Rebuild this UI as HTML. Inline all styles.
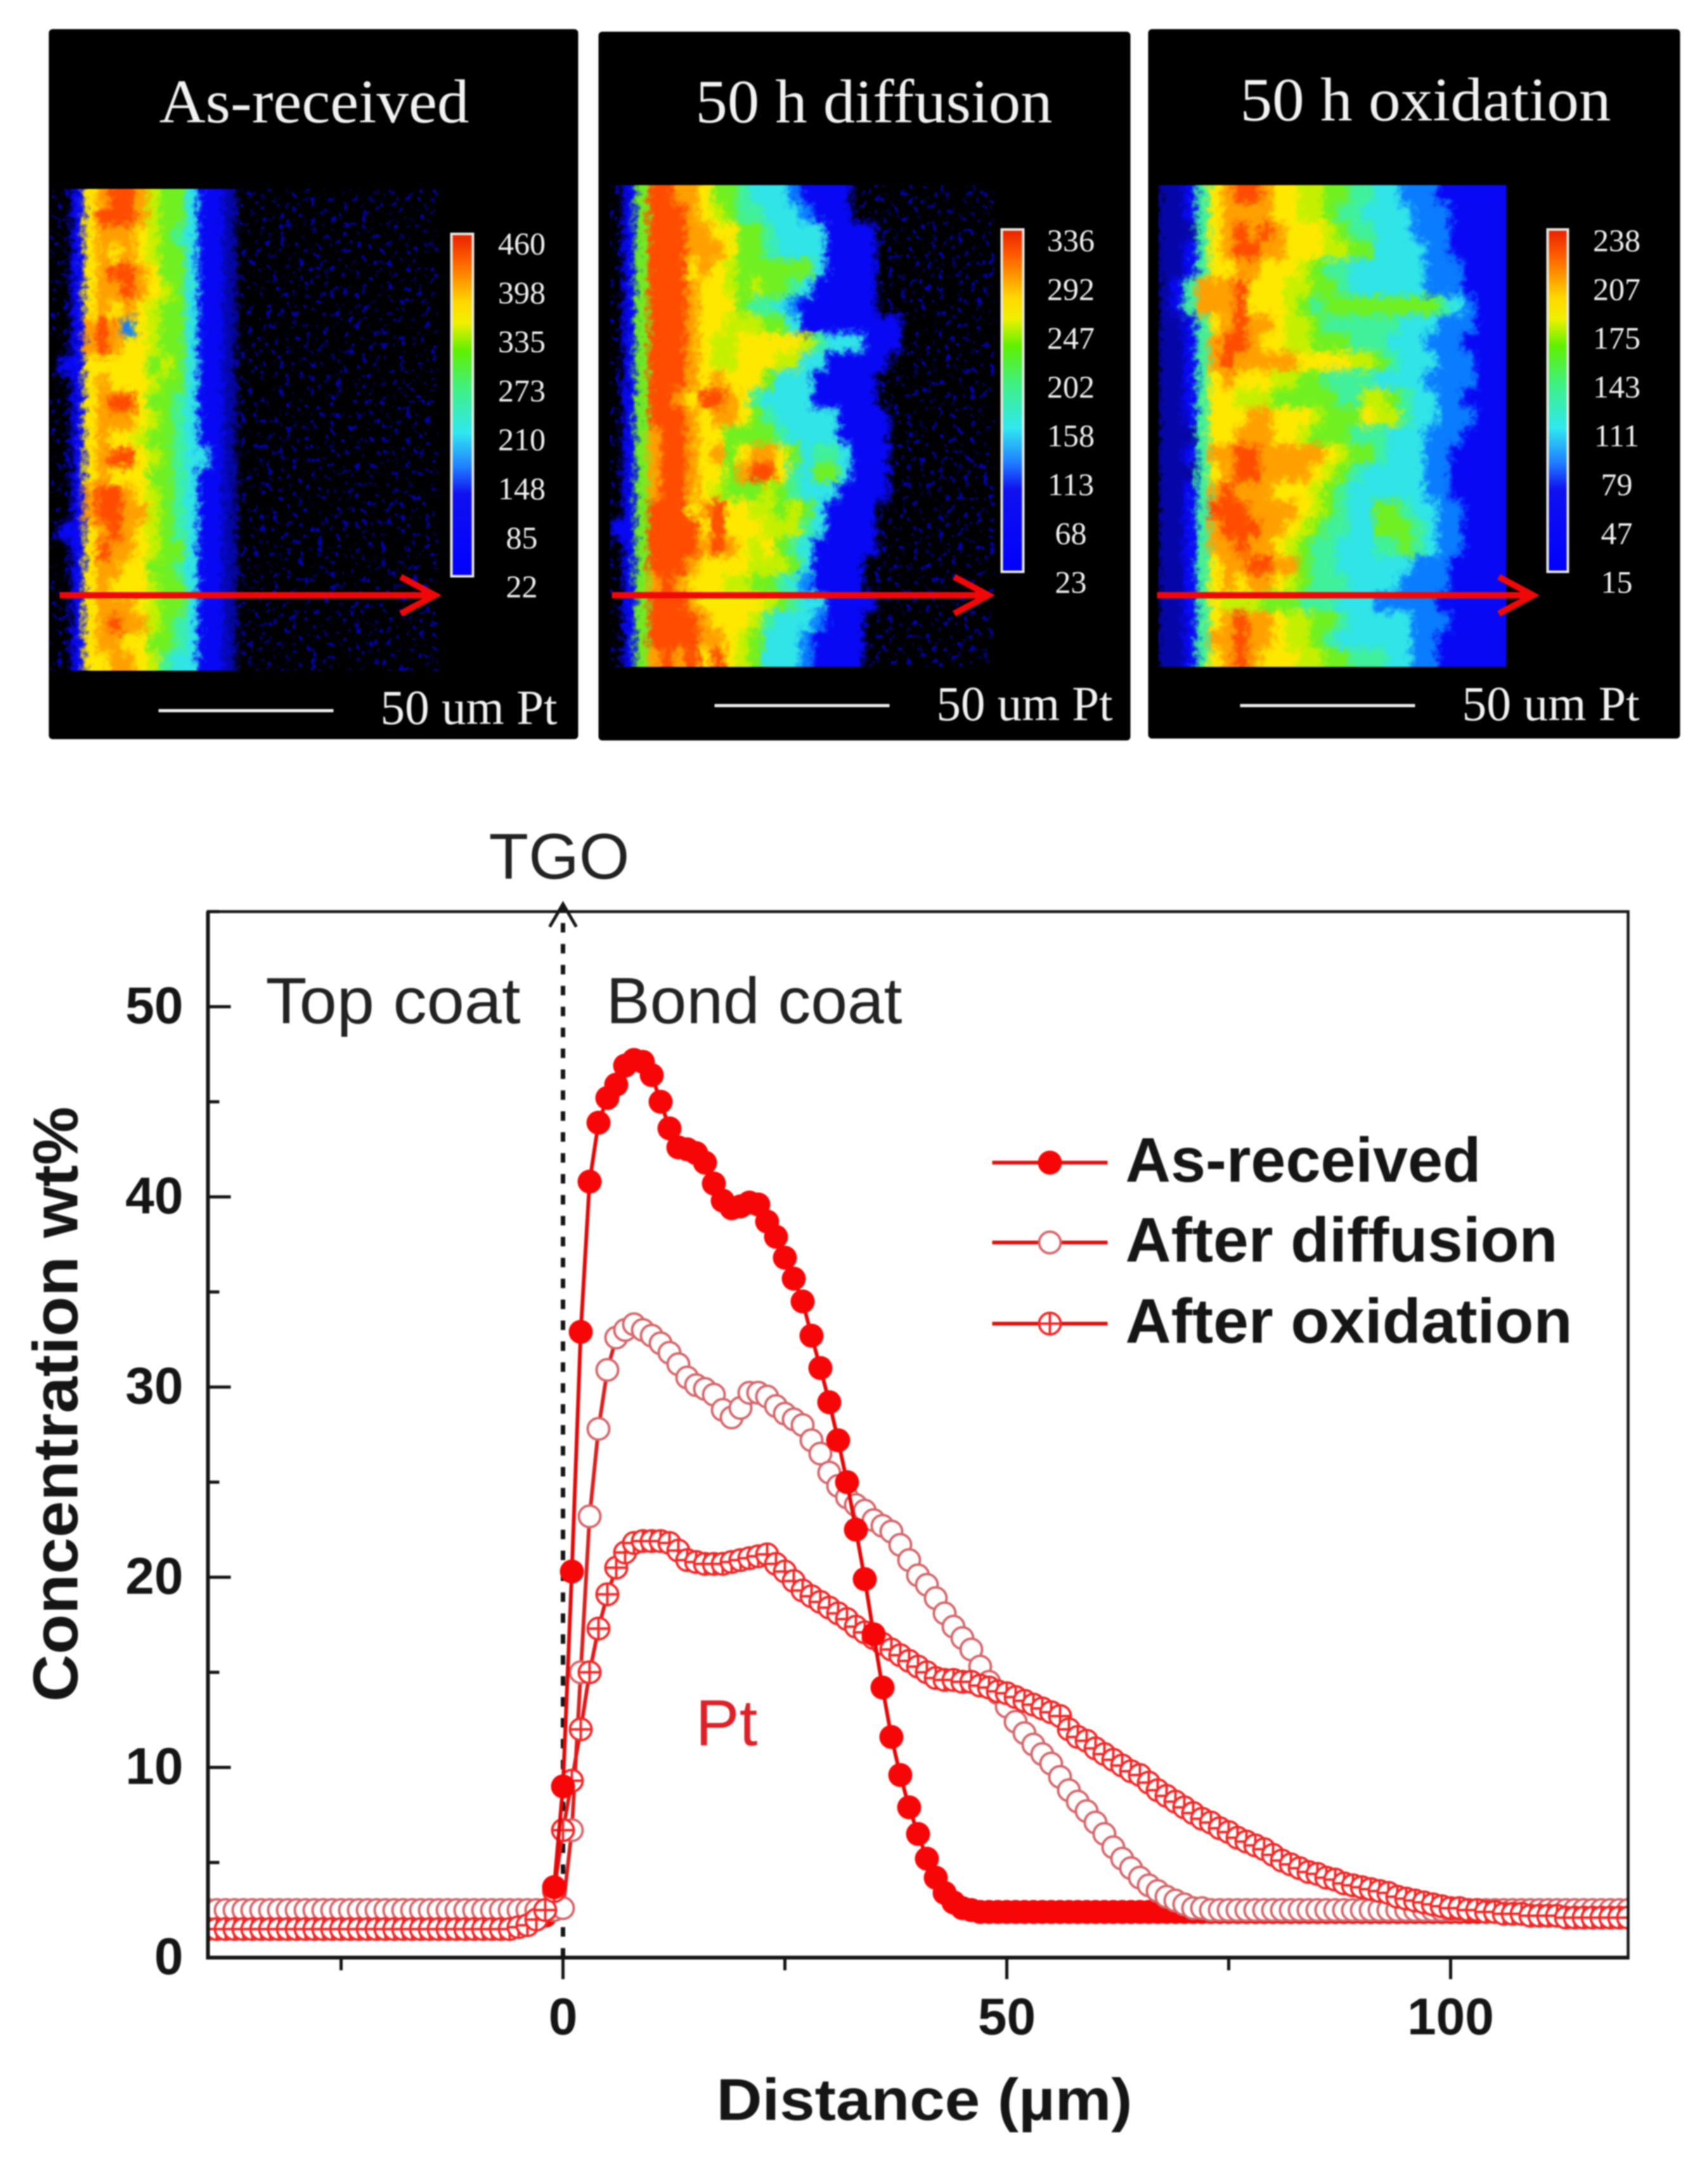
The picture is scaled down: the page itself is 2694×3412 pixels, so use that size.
<!DOCTYPE html>
<html lang="en">
<head>
<meta charset="utf-8">
<title>Pt concentration profiles</title>
<style>
html,body{margin:0;padding:0;background:#fff}
svg{display:block;filter:blur(1px)}
.serif{font-family:"Liberation Serif",serif;fill:#f2f2f2}
.sans{font-family:"Liberation Sans",sans-serif}
.bold{font-family:"Liberation Sans",sans-serif;font-weight:700;fill:#151515}
</style>
</head>
<body>
<svg id="figure" xmlns="http://www.w3.org/2000/svg" width="2694" height="3412" viewBox="0 0 2694 3412">
<defs>
<filter id="mapTexture" filterUnits="userSpaceOnUse" x="0" y="0" width="2694" height="1200" color-interpolation-filters="sRGB">
<feGaussianBlur in="SourceGraphic" stdDeviation="5" result="soft"/>
<feTurbulence type="fractalNoise" baseFrequency="0.09" numOctaves="3" seed="4" result="noise"/>
<feDisplacementMap in="soft" in2="noise" scale="24" xChannelSelector="R" yChannelSelector="G"/>
</filter>
<filter id="specks" filterUnits="userSpaceOnUse" x="0" y="0" width="2694" height="1200" color-interpolation-filters="sRGB">
<feTurbulence type="fractalNoise" baseFrequency="0.1" numOctaves="2" seed="9"/>
<feColorMatrix type="matrix" values="0 0 0 0 0  0 0 0 0 0  0 0 0 0 0.7  6 0 0 0 -3.5"/>
</filter>
<linearGradient id="colorbarGradient" x1="0" y1="0" x2="0" y2="1">
<stop offset="0" stop-color="#e82000"/>
<stop offset="0.08" stop-color="#ff6000"/>
<stop offset="0.2" stop-color="#ffd800"/>
<stop offset="0.26" stop-color="#f0f000"/>
<stop offset="0.34" stop-color="#60f000"/>
<stop offset="0.45" stop-color="#40f080"/>
<stop offset="0.58" stop-color="#30e8f0"/>
<stop offset="0.68" stop-color="#2080ff"/>
<stop offset="0.76" stop-color="#1010f0"/>
<stop offset="1" stop-color="#0000ff"/>
</linearGradient>
<clipPath id="plotClip"><rect x="328" y="1438" width="2240" height="1650"/></clipPath>
</defs>
<rect x="0" y="0" width="2694" height="3412" fill="#fff"/>
<g id="panels"></g>
<g id="chart"></g>
</svg>
<script>
var NS = 'http://www.w3.org/2000/svg';

/* ---------- Element maps: intensity levels per row ---------- */
var asReceivedGrid = [
"0178998655311a","0179998655311a","0178887654311a","0178787655311a",
"0178998755311a","0178898765311a","0178787655311a","0189827655311a",
"0189877655311a","1177777565311a","0178777655311a","0178997554311a",
"0178887654311a","0178776554311a","0178997654331a","0178777554311a",
"0189987654311a","0189988654311a","1178987654311a","0179887655311a",
"0178877554311a","0178777655311a","0178887655311a","0178988654311a",
"0178877554311a","0177887643311a"
];
var diffusionGrid = [
"0159988755433321111","0159998765443332111","015999887755433331111","015999888755433331111",
"015999787655555531111","015999877656554311111","015999877754432111111","01599987766655311111111",
"01599987667777764333111","0159998766777663311111","015999878777533311111","015998799874333311111",
"0159998788754333331111","0158998775555433331111","0158998785788753443111","0158998775899743553111",
"0158998765556543331111","015999789776656531111","115999979777666431111","015999989876754311111",
"01599987777666531111","01589877766554321111","015999877777654331111","01599998777643332111",
"01599998876533321111","01589897976533321111"
];
var oxidationGrid = [
"aa14789987766554433222111111","aa14788887766544333322211111","aaa4789898777654433322211111","aa14789988777665533332211111",
"aa14778877765443333332221111","a14888977766554333333222111","a148889777654555555555432111","aa14789887665444444333222111",
"aa14899877665554443332221111","aa14898888877776654333222111","aa14787776655444433332222111","aa14776665555544665433221111",
"aa14777887776555766433222111","aaa4778887765554443332221111","aa14889988888765543332211111","aaa4789988887654333332211111",
"aa14898887776543333332211111","aa14999888876543355433221111","aa14899988765443355543221111","aa14889887654433344543221111",
"aa14788998854433333322211111","aa14787887654443333222211111","aa14766655544433322222111111","aa14789887665543333322211111",
"aa14889887665433333322111111","aa14789877766554443322111111"
];
var asReceivedScale = ["460","398","335","273","210","148","85","22"];
var diffusionScale = ["336","292","247","202","158","113","68","23"];
var oxidationScale = ["238","207","175","143","111","79","47","15"];
var levelColors = {a:"#0606a8","1":"#0808f4","2":"#0a7cff","3":"#30e4e8","4":"#40f09a","5":"#70f020","6":"#c4f000","7":"#ffe800","8":"#ffa000","9":"#ff4c00"};

/* ---------- Chart data ---------- */
var distance = [-40,-39,-38,-37,-36,-35,-34,-33,-32,-31,-30,-29,-28,-27,-26,-25,-24,-23,-22,-21,-20,-19,-18,-17,-16,-15,-14,-13,-12,-11,-10,-9,-8,-7,-6,-5,-4,-3,-2,-1,
0,1,2,3,4,5,6,7,8,9,10,11,12,13,14,15,16,17,18,19,20,21,22,23,24,25,26,27,28,29,30,31,32,33,34,35,36,37,38,39,40,41,42,43,44,45,46,47,48,49,50,
51,52,53,54,55,56,57,58,59,60,61,62,63,64,65,66,67,68,69,70,71,72,73,74,75,76,77,78,79,80,81,82,83,84,85,86,87,88,89,90,91,92,93,94,95,96,97,98,99,100,
101,102,103,104,105,106,107,108,109,110,111,112,113,114,115,116,117,118,119,120];
var asReceived = [2.0,2.0,2.0,2.0,2.0,2.0,2.0,2.0,2.0,2.0,2.0,2.0,2.0,2.0,2.0,2.0,2.0,2.0,2.0,2.0,2.0,2.0,2.0,2.0,2.0,2.0,2.0,2.0,2.0,2.0,2.0,2.0,2.0,2.0,2.0,2.0,2.0,2.0,2.2,3.7,
9.0,20.3,32.9,40.8,43.9,45.2,45.9,46.9,47.2,47.1,46.4,45.0,43.6,42.6,42.5,42.3,41.8,40.7,39.8,39.4,39.5,39.7,39.6,38.7,37.9,36.8,35.7,34.5,32.7,31.0,29.2,27.2,25.0,22.5,19.9,17.0,14.2,11.6,9.6,7.9,6.5,5.2,4.2,3.4,2.9,2.6,2.5,2.4,2.4,2.4,2.4,
2.4,2.4,2.4,2.4,2.4,2.4,2.4,2.4,2.4,2.4,2.4,2.4,2.4,2.4,2.4,2.4,2.4,2.4,2.4,2.4,2.4,2.4,2.4,2.4,2.4,2.4,2.4,2.4,2.4,2.4,2.4,2.4,2.4,2.4,2.4,2.4,2.4,2.4,2.4,2.4,2.4,2.4,2.4,2.4,2.4,2.4,2.4,2.4,2.4,2.4,
2.4,2.4,2.4,2.4,2.4,2.4,2.4,2.4,2.4,2.4,2.4,2.4,2.4,2.4,2.4,2.4,2.4,2.4,2.4,2.4];
var afterDiffusion = [2.5,2.5,2.5,2.5,2.5,2.5,2.5,2.5,2.5,2.5,2.5,2.5,2.5,2.5,2.5,2.5,2.5,2.5,2.5,2.5,2.5,2.5,2.5,2.5,2.5,2.5,2.5,2.5,2.5,2.5,2.5,2.5,2.5,2.5,2.5,2.5,2.5,2.5,2.5,2.5,
2.6,6.7,15.0,23.2,27.8,30.9,32.6,33.0,33.3,33.0,32.7,32.3,31.8,31.2,30.5,30.1,29.9,29.6,28.8,28.4,28.9,29.7,29.7,29.5,29.0,28.6,28.3,28.0,27.2,26.5,25.5,24.8,24.2,23.8,23.5,23.0,22.7,22.4,21.7,20.9,20.1,19.6,18.9,18.1,17.4,16.8,16.2,15.3,14.5,13.9,13.2,
12.4,11.8,11.2,10.7,10.2,9.5,8.8,8.2,7.7,7.1,6.5,5.8,5.2,4.7,4.2,3.8,3.5,3.2,3.0,2.8,2.6,2.6,2.5,2.5,2.5,2.5,2.5,2.5,2.5,2.5,2.5,2.5,2.5,2.5,2.5,2.5,2.5,2.5,2.5,2.5,2.5,2.5,2.5,2.5,2.5,2.5,2.5,2.5,2.5,2.5,
2.5,2.5,2.5,2.5,2.5,2.5,2.5,2.5,2.5,2.5,2.5,2.5,2.5,2.5,2.5,2.5,2.5,2.5,2.5,2.5];
var afterOxidation = [1.5,1.5,1.5,1.5,1.5,1.5,1.5,1.5,1.5,1.5,1.5,1.5,1.5,1.5,1.5,1.5,1.5,1.5,1.5,1.5,1.5,1.5,1.5,1.5,1.5,1.5,1.5,1.5,1.5,1.5,1.5,1.5,1.5,1.5,1.5,1.6,1.7,2.0,2.5,3.5,
6.7,9.3,12.0,15.0,17.3,19.1,20.5,21.3,21.8,21.9,21.9,21.9,21.8,21.4,20.9,20.8,20.7,20.7,20.7,20.8,20.9,21.0,21.1,21.2,20.7,20.3,19.8,19.3,19.0,18.7,18.4,18.1,17.8,17.4,17.1,16.8,16.5,16.2,15.9,15.6,15.3,15.0,14.7,14.6,14.6,14.5,14.5,14.3,14.2,14.0,13.9,
13.7,13.5,13.3,13.1,12.9,12.7,12.0,11.6,11.4,11.0,10.7,10.4,10.1,9.8,9.6,9.2,8.8,8.5,8.2,7.9,7.6,7.3,7.1,6.8,6.6,6.3,6.1,5.9,5.7,5.4,5.1,4.9,4.7,4.5,4.4,4.2,4.1,3.9,3.8,3.7,3.6,3.5,3.4,3.2,3.1,3.0,2.9,2.8,2.7,2.6,
2.6,2.5,2.5,2.4,2.4,2.3,2.3,2.3,2.2,2.2,2.2,2.2,2.1,2.1,2.1,2.1,2.1,2.1,2.1,2.1];
var yMajorTicks = [0,10,20,30,40,50];
var yMinorTicks = [5,15,25,35,45,55];
var xMajorTicks = [0,50,100];
var xMinorTicks = [-25,25,75];

function make(tag, attrs, parent, txt) {
  var e = document.createElementNS(NS, tag);
  for (var k in attrs) e.setAttribute(k, attrs[k]);
  if (txt !== undefined) e.textContent = txt;
  if (parent) parent.appendChild(e);
  return e;
}

/* ---------- Panels ---------- */
var panelsRoot = document.getElementById('panels');

function drawPanel(o, idx) {
  var g = make('g', {}, panelsRoot);
  
  
  var bg = make('rect', {x:o.px, y:o.py, width:o.pw, height:o.ph, rx:6, fill:'#000'}, g);
  
  

  var title = make('text', {x:o.titleX, y:o.titleY, 'class':'serif', 'font-size':o.titleSize, textLength:o.titleLen, lengthAdjust:'spacingAndGlyphs'}, g, o.title);
  
  

  var clip = make('clipPath', {id:'mapClip' + idx}, g);
  make('rect', {x:o.mapX, y:o.mapY, width:o.mapW, height:o.mapH}, clip);
  var mapG = make('g', {'clip-path':'url(#mapClip' + idx + ')'}, g);
  
  

  var sp = make('rect', {x:o.mapX, y:o.mapY, width:o.mapW, height:o.mapH, fill:'#000', filter:'url(#specks)'}, mapG);
  
  

  var cells = make('g', {filter:'url(#mapTexture)'}, mapG);
  var rowH = o.mapH / o.grid.length;
  o.grid.forEach(function (row, r) {
    for (var c = 0; c < row.length; c++) {
      var lv = row.charAt(c);
      if (lv === '0') continue;
      var top = o.mapY + r * rowH, h = rowH + 1;
      if (r === 0) { top -= 30; h += 30; }
      if (r === o.grid.length - 1) { h += 30; }
      var w = 21;
      if (c === row.length - 1 && o.bleedRight) w += 40;
      var cell = make('rect', {x:o.gridX + c * 20, y:top, width:w, height:h, fill:levelColors[lv]}, cells);
      
      
    }
  });

  var bar = make('rect', {x:o.barX, y:o.barY, width:o.barW, height:o.barH, fill:'url(#colorbarGradient)', stroke:'#e8e8e0', 'stroke-width':4}, g);
  
  

  o.scale.forEach(function (lab, i) {
    var t = make('text', {x:o.labelX, y:o.labelY + i * o.labelStep + 17, 'class':'serif', 'font-size':50, 'text-anchor':'middle'}, g, lab);
    
    
  });

  var arrow = make('g', {stroke:'#f00808', 'stroke-width':10, fill:'none'}, g);
  
  
  make('line', {x1:o.arrowX1, y1:939, x2:o.arrowX2 - 14, y2:939}, arrow);
  make('polyline', {points:(o.arrowX2 - 62) + ',910 ' + (o.arrowX2 - 8) + ',939 ' + (o.arrowX2 - 62) + ',968'}, arrow);

  var sb = make('line', {x1:o.sbX1, x2:o.sbX2, y1:o.sbY, y2:o.sbY, stroke:'#eee', 'stroke-width':5}, g);
  
  
  var st = make('text', {x:o.sbTextX, y:o.sbTextY, 'class':'serif', 'font-size':77, textLength:o.sbTextLen, lengthAdjust:'spacingAndGlyphs'}, g, '50 um Pt');
  
  
}

drawPanel({px:77,py:46,pw:835,ph:1120,title:'As-received',titleX:251,titleY:193,titleSize:97,titleLen:489,
  grid:asReceivedGrid,gridX:92,mapX:79,mapY:298,mapW:612,mapH:760,scale:asReceivedScale,
  barX:712,barY:369,barW:34,barH:540,labelX:823,labelY:384,labelStep:77.3,
  arrowX1:94,arrowX2:694,sbX1:250,sbX2:526,sbY:1121,sbTextX:600,sbTextY:1142,sbTextLen:279}, 0);
drawPanel({px:944,py:50,pw:839,ph:1118,title:'50 h diffusion',titleX:1097,titleY:193,titleSize:97,titleLen:563,
  grid:diffusionGrid,gridX:962,mapX:962,mapY:292,mapW:607,mapH:760,scale:diffusionScale,
  barX:1580,barY:362,barW:34,barH:540,labelX:1689,labelY:379,labelStep:77,
  arrowX1:965,arrowX2:1567,sbX1:1127,sbX2:1403,sbY:1113,sbTextX:1477,sbTextY:1136,sbTextLen:278}, 1);
drawPanel({px:1811,py:46,pw:839,ph:1119,title:'50 h oxidation',titleX:1956,titleY:190,titleSize:97,titleLen:585,
  grid:oxidationGrid,gridX:1827,mapX:1827,mapY:292,mapW:549,mapH:760,scale:oxidationScale,bleedRight:true,
  barX:2441,barY:362,barW:32,barH:540,labelX:2550,labelY:379,labelStep:77,
  arrowX1:1825,arrowX2:2426,sbX1:1956,sbX2:2232,sbY:1113,sbTextX:2306,sbTextY:1136,sbTextLen:280}, 2);

/* ---------- Chart ---------- */
var chart = document.getElementById('chart');
function xScale(v) { return 888 + 14 * v; }
function yScale(v) { return 3088 - 30 * v; }
var INK = '#151515';

var dashed = make('line', {x1:xScale(0), x2:xScale(0), y1:3088, y2:1428, stroke:INK, 'stroke-width':7, 'stroke-dasharray':'15 18'}, chart);


var dashedHead = make('polyline', {points:(xScale(0) - 21) + ',1462 ' + xScale(0) + ',1426 ' + (xScale(0) + 21) + ',1462', fill:'none', stroke:INK, 'stroke-width':5}, chart);



function drawMarker(parent, kind, cx, cy) {
  if (kind === 'filled') {
    var f = make('circle', {cx:cx, cy:cy, r:19, fill:'#f60606'}, parent);
    
    
  } else if (kind === 'open') {
    var o = make('circle', {cx:cx, cy:cy, r:17, fill:'#fff', stroke:'#d4686c', 'stroke-width':4}, parent);
    
    
  } else {
    var g = make('g', {}, parent);
    
    
    make('circle', {cx:cx, cy:cy, r:17, fill:'#fff', stroke:'#ee2a2a', 'stroke-width':4}, g);
    make('line', {x1:cx - 16, x2:cx + 16, y1:cy, y2:cy, stroke:'#ee2a2a', 'stroke-width':4}, g);
    make('line', {x1:cx, x2:cx, y1:cy - 16, y2:cy + 16, stroke:'#ee2a2a', 'stroke-width':4}, g);
  }
}

var plot = make('g', {'clip-path':'url(#plotClip)'}, chart);



function drawSeries(values, kind, lineColor, name, keep) {
  var g = make('g', {}, plot);
  
  
  var pts = [];
  values.forEach(function (v, i) { if (keep(distance[i])) pts.push(xScale(distance[i]) + ',' + yScale(v)); });
  var ln = make('polyline', {points:pts.join(' '), fill:'none', stroke:lineColor, 'stroke-width':6}, g);
  
  
  values.forEach(function (v, i) { if (keep(distance[i])) drawMarker(g, kind, xScale(distance[i]), yScale(v)); });
}
function everyPoint() { return true; }
function leftPlateau(x) { return x < 0; }
function rightPlateau(x) { return x >= 44; }
function peakRegion(x) { return x >= -1 && x <= 44; }
drawSeries(asReceived, 'filled', '#e00808', 'as-received-left-plateau-series', leftPlateau);
drawSeries(asReceived, 'filled', '#e00808', 'as-received-right-plateau-series', rightPlateau);
drawSeries(afterDiffusion, 'open', '#d82020', 'after-diffusion-series', everyPoint);
drawSeries(afterOxidation, 'cross', '#e01818', 'after-oxidation-series', everyPoint);
drawSeries(asReceived, 'filled', '#e00808', 'as-received-series', peakRegion);

/* axes */
var frame = make('rect', {x:328, y:1438, width:2240, height:1650, fill:'none', stroke:INK, 'stroke-width':4.5}, chart);


var leftAxis = make('line', {x1:328, x2:328, y1:1438, y2:3091, stroke:INK, 'stroke-width':6}, chart);


var bottomAxis = make('line', {x1:325, x2:2570, y1:3088, y2:3088, stroke:INK, 'stroke-width':6}, chart);



yMajorTicks.forEach(function (v) {
  var t = make('line', {x1:328, x2:364, y1:yScale(v), y2:yScale(v), stroke:INK, 'stroke-width':5}, chart);
  
  
  var l = make('text', {x:289, y:yScale(v) + 26, 'class':'bold', 'font-size':82, 'text-anchor':'end'}, chart, String(v));
  
  
});
yMinorTicks.forEach(function (v) {
  var t = make('line', {x1:328, x2:346, y1:yScale(v), y2:yScale(v), stroke:INK, 'stroke-width':5}, chart);
  
  
});
xMajorTicks.forEach(function (v) {
  var t = make('line', {x1:xScale(v), x2:xScale(v), y1:3088, y2:3122, stroke:INK, 'stroke-width':5}, chart);
  
  
  var l = make('text', {x:xScale(v), y:3209, 'class':'bold', 'font-size':82, 'text-anchor':'middle'}, chart, String(v));
  
  
});
xMinorTicks.forEach(function (v) {
  var t = make('line', {x1:xScale(v), x2:xScale(v), y1:3088, y2:3108, stroke:INK, 'stroke-width':5}, chart);
  
  
});

var xTitle = make('text', {x:1130, y:3344, 'class':'bold', 'font-size':93, textLength:656, lengthAdjust:'spacingAndGlyphs'}, chart, 'Distance (\u00b5m)');


var yTitle = make('text', {x:0, y:0, 'class':'bold', 'font-size':100, 'text-anchor':'middle', textLength:939, lengthAdjust:'spacingAndGlyphs', transform:'translate(122 2215) rotate(-90)'}, chart, 'Concentration wt%');



/* annotations */
var tgo = make('text', {x:771, y:1386, 'class':'sans', 'font-size':102, fill:'#222', textLength:222, lengthAdjust:'spacingAndGlyphs'}, chart, 'TGO');


var topCoat = make('text', {x:419, y:1614, 'class':'sans', 'font-size':103, fill:'#222', textLength:402, lengthAdjust:'spacingAndGlyphs'}, chart, 'Top coat');


var bondCoat = make('text', {x:956, y:1614, 'class':'sans', 'font-size':103, fill:'#222', textLength:467, lengthAdjust:'spacingAndGlyphs'}, chart, 'Bond coat');


var ptLabel = make('text', {x:1097, y:2753, 'class':'sans', 'font-size':103, fill:'#dc2228', textLength:98, lengthAdjust:'spacingAndGlyphs'}, chart, 'Pt');



/* legend */
var legendLabels = ['As-received','After diffusion','After oxidation'];
var legendKinds = ['filled','open','cross'];
var legendY = [1834,1960,2088];
var legendWidths = [561,682,705];
legendLabels.forEach(function (lab, i) {
  var g = make('g', {}, chart);
  
  
  make('line', {x1:1565, x2:1747, y1:legendY[i], y2:legendY[i], stroke:'#e01010', 'stroke-width':6}, g);
  drawMarker(g, legendKinds[i], 1656, legendY[i]);
  var t = make('text', {x:1775, y:legendY[i] + 30, 'class':'bold', 'font-size':99, textLength:legendWidths[i], lengthAdjust:'spacingAndGlyphs'}, g, lab);
  
  
});
</script>
</body>
</html>
